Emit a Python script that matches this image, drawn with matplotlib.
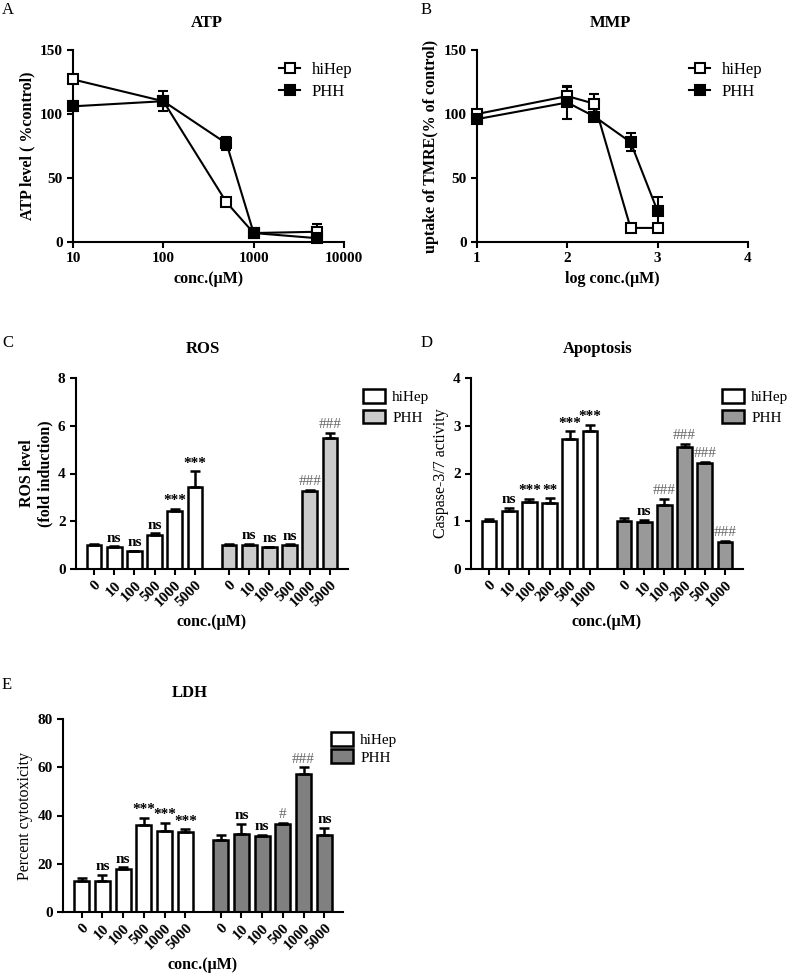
import numpy as np
import matplotlib
matplotlib.use("Agg")
import matplotlib.pyplot as plt
from matplotlib.lines import Line2D

plt.rcParams["font.family"] = ["Liberation Serif", "DejaVu Serif"]
plt.rcParams["axes.linewidth"] = 1.5
plt.rcParams["xtick.major.width"] = 1.5
plt.rcParams["ytick.major.width"] = 1.5
plt.rcParams["xtick.major.size"] = 4
plt.rcParams["ytick.major.size"] = 4

W, H = 787, 975

# ---- data ----
atp_conc = [10, 100, 500, 1000, 5000]
atp_hihep = [127, 110, 31, 7, 8]
atp_hihep_err = [1, 2, 2, 1, 6]
atp_phh = [106, 110, 77, 7, 3]
atp_phh_err = [4, 8, 5, 1, 2]

mmp_logc = [1, 2, 2.3, 2.7, 3]
mmp_hihep = [100, 114, 108, 11, 11]
mmp_hihep_err = [2, 7, 8, 1, 1]
mmp_phh = [96, 109, 98, 78, 24]
mmp_phh_err = [2, 13, 2, 7, 11]

ros_labels = ["0", "10", "100", "500", "1000", "5000"]
ros_hihep = [1.0, 0.93, 0.75, 1.43, 2.42, 3.45]
ros_hihep_err = [0.03, 0.03, 0.02, 0.07, 0.10, 0.65]
ros_phh = [1.0, 1.0, 0.92, 1.0, 3.27, 5.48]
ros_phh_err = [0.03, 0.05, 0.02, 0.03, 0.05, 0.22]
ros_hihep_sig = ["", "ns", "ns", "ns", "***", "***"]
ros_phh_sig = ["", "ns", "ns", "ns", "###", "###"]

apo_labels = ["0", "10", "100", "200", "500", "1000"]
apo_hihep = [1.0, 1.22, 1.41, 1.38, 2.73, 2.89]
apo_hihep_err = [0.05, 0.06, 0.06, 0.10, 0.15, 0.13]
apo_phh = [1.0, 0.98, 1.35, 2.55, 2.21, 0.56]
apo_phh_err = [0.07, 0.05, 0.12, 0.07, 0.04, 0.03]
apo_hihep_sig = ["", "ns", "***", "**", "***", "***"]
apo_phh_sig = ["", "ns", "###", "###", "###", "###"]

ldh_labels = ["0", "10", "100", "500", "1000", "5000"]
ldh_hihep = [13, 13, 18, 36, 33.5, 33]
ldh_hihep_err = [1.2, 2.5, 0.5, 3, 3.5, 1.2]
ldh_phh = [30, 32.5, 31.5, 36.5, 57, 32]
ldh_phh_err = [2, 4, 0.5, 0.5, 3, 3]
ldh_hihep_sig = ["", "ns", "ns", "***", "***", "***"]
ldh_phh_sig = ["", "ns", "ns", "#", "###", "ns"]

TICK_FS = 11
LABEL_FS = 11.5
LEG_FS = 11

fig = plt.figure(figsize=(W / 100, H / 100), dpi=100)


def add_ax(left, right, top, bottom):
    return fig.add_axes([left / W, 1 - bottom / H, (right - left) / W, (bottom - top) / H])


def style(ax):
    ax.spines["top"].set_visible(False)
    ax.spines["right"].set_visible(False)
    for lab in ax.get_yticklabels() + ax.get_xticklabels():
        lab.set_fontweight("bold")
        lab.set_fontsize(TICK_FS)


def ftext(x, y, s, **kw):
    fig.text(x / W, 1 - y / H, s, **kw)


def line_panel(ax, x, a, ae, b, be):
    for ys, es, fc in [(a, ae, "white"), (b, be, "black")]:
        ax.errorbar(x, ys, yerr=es, color="black", lw=1.5, marker="s", ms=6.5, mfc=fc,
                    mec="black", mew=1.5, capsize=3.5, capthick=1.5, clip_on=False, zorder=3)
    ax.set_ylim(0, 150)
    ax.set_yticks([0, 50, 100, 150])


def line_legend(ax, x, y):
    handles = [Line2D([], [], color="black", lw=1.5, marker="s", ms=6.5, mfc="white", mew=1.5),
               Line2D([], [], color="black", lw=1.5, marker="s", ms=6.5, mfc="black", mew=1.5)]
    ax.legend(handles, ["hiHep", "PHH"], loc="upper left", bbox_to_anchor=(x / W, 1 - y / H),
              bbox_transform=fig.transFigure, frameon=False, fontsize=12, handlelength=1.3,
              borderaxespad=0, labelspacing=0.35, handletextpad=0.7)


def bar_panel(ax, labels, a, ae, b, be, sa, sb, color, ymax, step):
    n = len(labels)
    xa = np.arange(n)
    xb = np.arange(n) + n + 0.7
    ax.bar(xa, a, width=0.72, color="white", edgecolor="black", lw=1.8, label="hiHep")
    ax.bar(xb, b, width=0.72, color=color, edgecolor="black", lw=1.8, label="PHH")
    ax.errorbar(xa, a, yerr=[np.zeros(n), ae], fmt="none", ecolor="black", elinewidth=1.8,
                capsize=3.5, capthick=1.8)
    ax.errorbar(xb, b, yerr=[np.zeros(n), be], fmt="none", ecolor="black", elinewidth=1.8,
                capsize=3.5, capthick=1.8)
    off = ymax * 0.008
    for xs, ys, es, ss in [(xa, a, ae, sa), (xb, b, be, sb)]:
        for x, y, e, s in zip(xs, ys, es, ss):
            if not s:
                continue
            if "#" in s:
                ax.text(x, y + e + off, s, ha="center", va="bottom", fontsize=11, color="#666666")
            else:
                ax.text(x, y + e + off, s, ha="center", va="bottom", fontsize=11,
                        fontweight="bold", color="black")
    ax.set_xlim(-0.9, xb[-1] + 0.9)
    ax.set_ylim(0, ymax)
    ax.set_yticks(np.arange(0, ymax + step / 2, step))
    ax.set_xticks(list(xa) + list(xb))
    ax.set_xticklabels(labels + labels, rotation=45, ha="right", rotation_mode="anchor")
    ax.tick_params(axis="x", length=4, pad=3)


def bar_legend(ax, x, y, spacing):
    ax.legend(loc="upper left", bbox_to_anchor=(x / W, 1 - y / H), bbox_transform=fig.transFigure,
              frameon=False, fontsize=LEG_FS, handlelength=1.4, handleheight=1.0, borderaxespad=0,
              labelspacing=spacing, handletextpad=0.5)


# ---- A: ATP ----
axA = add_ax(73, 344, 50, 242)
line_panel(axA, atp_conc, atp_hihep, atp_hihep_err, atp_phh, atp_phh_err)
axA.set_xscale("log")
axA.set_xlim(10, 10000)
axA.set_xticks([10, 100, 1000, 10000])
axA.set_xticklabels(["10", "100", "1000", "10000"])
axA.minorticks_off()
axA.set_xlabel("conc.(μM)", fontsize=LABEL_FS, fontweight="bold", labelpad=4)
axA.set_ylabel("ATP level ( %control)", fontsize=LABEL_FS, fontweight="bold", labelpad=3)
style(axA)
line_legend(axA, 272, 55)

# ---- B: MMP ----
axB = add_ax(477, 748, 50, 242)
line_panel(axB, mmp_logc, mmp_hihep, mmp_hihep_err, mmp_phh, mmp_phh_err)
axB.set_xlim(1, 4)
axB.set_xticks([1, 2, 3, 4])
axB.set_xlabel("log conc.(μM)", fontsize=LABEL_FS, fontweight="bold", labelpad=4)
axB.set_ylabel("uptake of TMRE(% of control)", fontsize=LABEL_FS, fontweight="bold", labelpad=3)
style(axB)
line_legend(axB, 682, 55)

# ---- C: ROS ----
axC = add_ax(76, 348, 378, 569)
bar_panel(axC, ros_labels, ros_hihep, ros_hihep_err, ros_phh, ros_phh_err,
          ros_hihep_sig, ros_phh_sig, "#cbcbcb", 8, 2)
axC.set_xlabel("conc.(μM)", fontsize=LABEL_FS, fontweight="bold", labelpad=3)
axC.set_ylabel("ROS level\n(fold induction)", fontsize=LABEL_FS, fontweight="bold", labelpad=3)
style(axC)
bar_legend(axC, 357, 383, 0.35)

# ---- D: Apoptosis ----
axD = add_ax(471, 743, 378, 569)
bar_panel(axD, apo_labels, apo_hihep, apo_hihep_err, apo_phh, apo_phh_err,
          apo_hihep_sig, apo_phh_sig, "#999999", 4, 1)
axD.set_xlabel("conc.(μM)", fontsize=LABEL_FS, fontweight="bold", labelpad=3)
axD.set_ylabel("Caspase-3/7 activity", fontsize=LABEL_FS, labelpad=3)
style(axD)
bar_legend(axD, 716, 383, 0.35)

# ---- E: LDH ----
axE = add_ax(63, 343, 719, 912)
bar_panel(axE, ldh_labels, ldh_hihep, ldh_hihep_err, ldh_phh, ldh_phh_err,
          ldh_hihep_sig, ldh_phh_sig, "#808080", 80, 20)
axE.set_xlabel("conc.(μM)", fontsize=LABEL_FS, fontweight="bold", labelpad=3)
axE.set_ylabel("Percent cytotoxicity", fontsize=LABEL_FS, labelpad=3)
style(axE)
bar_legend(axE, 325, 726, 0.15)

# ---- titles and panel letters ----
for x, y, s in [(207, 23, "ATP"), (610, 23, "MMP"), (203, 349, "ROS"),
                (598, 349, "Apoptosis"), (190, 693, "LDH")]:
    ftext(x, y, s, ha="center", va="center", fontsize=12, fontweight="bold")
for x, y, s in [(2, 10, "A"), (421, 10, "B"), (2, 343, "C"), (421, 343, "D"), (2, 685, "E")]:
    ftext(x, y, s, ha="left", va="center", fontsize=12)

fig.savefig("out.png", dpi=100)
